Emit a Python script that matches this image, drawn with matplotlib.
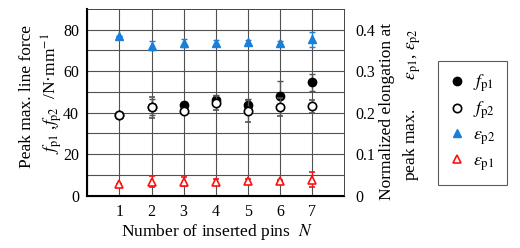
import numpy as np
import matplotlib
matplotlib.use('Agg')
import matplotlib.pyplot as plt

plt.rcParams['font.family'] = ['Liberation Serif', 'DejaVu Serif']
plt.rcParams['mathtext.fontset'] = 'stix'

# number of inserted pins
N = [1, 2, 3, 4, 5, 6, 7]
# peak max. line force (N/mm)
fp1 = [38.8, 42.8, 43.6, 46.0, 43.6, 48.1, 54.7]
fp1_err = [0.0, 4.0, 1.5, 2.5, 3.0, 7.0, 4.2]
fp2 = [38.8, 42.6, 40.9, 44.7, 40.7, 42.8, 43.1]
fp2_err = [0.0, 5.0, 1.2, 3.5, 5.3, 4.5, 3.0]
# normalized elongation at peak max.
ep2 = [0.386, 0.362, 0.368, 0.369, 0.370, 0.369, 0.377]
ep2_err = [0.0, 0.0115, 0.010, 0.007, 0.006, 0.005, 0.0175]
ep1 = [0.027, 0.034, 0.034, 0.034, 0.035, 0.035, 0.038]
ep1_err = [0.0, 0.013, 0.010, 0.006, 0.006, 0.004, 0.018]

blue = '#1a7fd6'
red = '#ff1010'
ebc = '#555555'

fig = plt.figure(figsize=(5.2, 2.48), dpi=100)
ax = fig.add_axes([87.3/520, 1-195.7/248, (344.3-87.3)/520, (195.7-9)/248])
ax2 = ax.twinx()

ax.set_xlim(0, 8)
ax.set_ylim(0, 90)
ax2.set_ylim(0, 0.45)
ax.set_xticks(N)
ax.set_yticks([0, 20, 40, 60, 80])
ax2.set_yticks([0, 0.1, 0.2, 0.3, 0.4])
ax2.set_yticklabels(['0', '0.1', '0.2', '0.3', '0.4'])
for v in N:
    ax.axvline(v, color='#505050', lw=0.8, zorder=0)
for v in range(10, 90, 10):
    ax.axhline(v, color='#505050', lw=0.8, zorder=0)

ax.tick_params(length=0, labelsize=11.5, pad=6)
ax2.tick_params(length=0, labelsize=11.5, pad=8)
ax.spines['left'].set_linewidth(1.5)
ax.spines['bottom'].set_linewidth(1.5)
for a in (ax, ax2):
    a.spines['top'].set_linewidth(0.6)
    a.spines['top'].set_color('#444444')
    a.spines['right'].set_linewidth(0.6)
    a.spines['right'].set_color('#444444')

# elongation on the right axis (scaled to the left axis for z-order)
s = 200.0
ax.errorbar(N, np.array(ep2)*s, yerr=np.array(ep2_err)*s, fmt='^', ms=6,
            color=blue, mec=blue, mfc=blue, ecolor=blue, elinewidth=1,
            capsize=2, zorder=3, label=r'$\varepsilon_{\mathrm{p2}}$')
ax.errorbar(N, np.array(ep1)*s, yerr=np.array(ep1_err)*s, fmt='^', ms=6,
            color=red, mec=red, mfc='white', mew=1.2, ecolor=red, elinewidth=1,
            capsize=2, zorder=3, label=r'$\varepsilon_{\mathrm{p1}}$')
ax.errorbar(N, fp1, yerr=fp1_err, fmt='o', ms=6, color='black', mfc='black',
            ecolor=ebc, elinewidth=1, capsize=2, zorder=4,
            label=r'$f_{\mathrm{p1}}$')
ax.errorbar(N, fp2, yerr=fp2_err, fmt='o', ms=6, color='black', mfc='white',
            mew=1.2, ecolor=ebc, elinewidth=1, capsize=2, zorder=5,
            label=r'$f_{\mathrm{p2}}$')

h, l = ax.get_legend_handles_labels()
order = [2, 3, 0, 1]
leg = ax.legend([h[i][0] for i in order], [l[i] for i in order],
                loc='upper left', bbox_to_anchor=(438/520, 1-61/248),
                bbox_transform=fig.transFigure, fancybox=False,
                edgecolor='#333333', fontsize=13, labelspacing=0.3,
                handletextpad=0.5, handlelength=0.8, borderpad=0.65,
                markerscale=1.0, borderaxespad=0)
leg.get_frame().set_linewidth(0.8)

lab = 12.5
fig.text(27/520, 1-96.5/248, 'Peak max. line force', rotation=90,
         ha='center', va='center', fontsize=lab)
fig.text(52/520, 1-93/248, r'$f_{\mathrm{p1}}$ ,$f_{\mathrm{p2}}$  /N·mm$^{-1}$',
         rotation=90, ha='center', va='center', fontsize=lab)
fig.text(387/520, 1-111/248, 'Normalized elongation at', rotation=90,
         ha='center', va='center', fontsize=lab)
fig.text(412/520, 1-105/248,
         r'peak max.       $\varepsilon_{\mathrm{p1}}$, $\varepsilon_{\mathrm{p2}}$',
         rotation=90, ha='center', va='center', fontsize=lab)
fig.text(217/520, 1-232/248, r'Number of inserted pins  $N$',
         ha='center', va='center', fontsize=lab)

fig.savefig('out.png', dpi=100)
